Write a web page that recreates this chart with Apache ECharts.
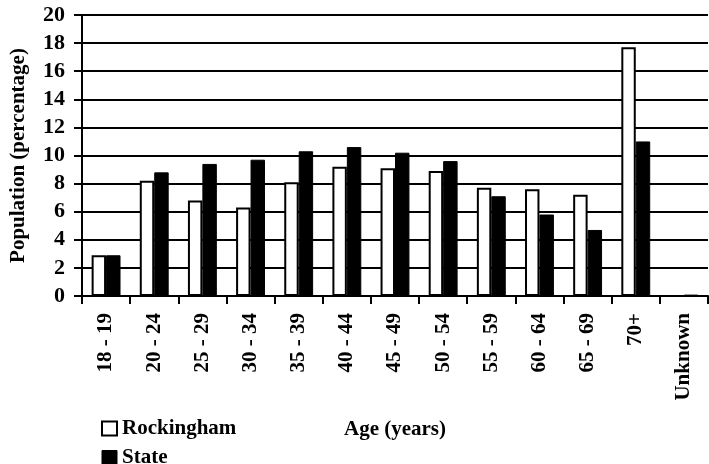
<!DOCTYPE html>
<html>
<head>
<meta charset="utf-8">
<script src="https://cdn.jsdelivr.net/npm/echarts@6/dist/echarts.min.js"></script>
<style>
html,body{margin:0;padding:0;background:#fff;}
#chart{width:709px;height:464px;}
</style>
</head>
<body>
<div id="chart"></div>
<script>
var categories = ['18 - 19','20 - 24','25 - 29','30 - 34','35 - 39','40 - 44','45 - 49','50 - 54','55 - 59','60 - 64','65 - 69','70+','Unknown'];
var rockingham = [2.9, 8.2, 6.8, 6.3, 8.1, 9.2, 9.1, 8.9, 7.7, 7.6, 7.2, 17.7, 0];
var state = [2.9, 8.8, 9.4, 9.7, 10.3, 10.6, 10.2, 9.6, 7.1, 5.8, 4.7, 11.0, 0.1];
var yMin = 0, yMax = 20, yStep = 2;

var FONT = '"Liberation Serif", "Times New Roman", serif';
var chart = echarts.init(document.getElementById('chart'));
chart.setOption({
  animation: false,
  backgroundColor: '#fff',
  textStyle: {fontFamily: FONT, color: '#000', fontWeight: 'bold'},
  grid: {left: 79, right: 1, top: 15, bottom: 168, containLabel: false},
  legend: {
    orient: 'vertical', left: 101, top: 418, height: 80, padding: 0,
    itemWidth: 15, itemHeight: 14, itemGap: 8,
    textStyle: {fontFamily: FONT, fontWeight: 'bold', fontSize: 21, lineHeight: 15, color: '#000'},
    data: [
      {name: 'Rockingham', icon: 'rect', itemStyle: {color: '#fff', borderColor: '#000', borderWidth: 2}},
      {name: 'State', icon: 'rect', itemStyle: {color: '#000', borderColor: '#000', borderWidth: 1}}
    ]
  },
  xAxis: {
    type: 'category',
    data: categories,
    name: 'Age (years)',
    nameLocation: 'middle',
    nameGap: 123,
    nameTextStyle: {fontFamily: FONT, fontWeight: 'bold', fontSize: 21, color: '#000'},
    axisLine: {lineStyle: {color: '#000', width: 2}},
    axisTick: {show: true, length: 8, lineStyle: {color: '#000', width: 2}},
    axisLabel: {rotate: 90, margin: 17, fontFamily: FONT, fontWeight: 'bold', fontSize: 21, color: '#000', interval: 0}
  },
  yAxis: {
    type: 'value',
    min: yMin, max: yMax, interval: yStep,
    name: 'Population (percentage)',
    nameLocation: 'middle',
    nameGap: 53,
    nameRotate: 90,
    nameTextStyle: {fontFamily: FONT, fontWeight: 'bold', fontSize: 21, color: '#000'},
    axisLine: {show: true, lineStyle: {color: '#000', width: 2}},
    axisTick: {show: true, length: 8, lineStyle: {color: '#000', width: 2}},
    axisLabel: {margin: 17, fontFamily: FONT, fontWeight: 'bold', fontSize: 22, color: '#000'},
    splitLine: {show: true, lineStyle: {color: '#000', width: 2}}
  },
  series: [
    {
      name: 'Rockingham', type: 'bar', data: rockingham,
      barWidth: '30%', barGap: '0%',
      itemStyle: {color: '#fff', borderColor: '#000', borderWidth: 2}
    },
    {
      name: 'State', type: 'bar', data: state,
      barWidth: '30%', barGap: '0%',
      itemStyle: {color: '#000', borderColor: '#000', borderWidth: 1}
    }
  ]
});
</script>
</body>
</html>
